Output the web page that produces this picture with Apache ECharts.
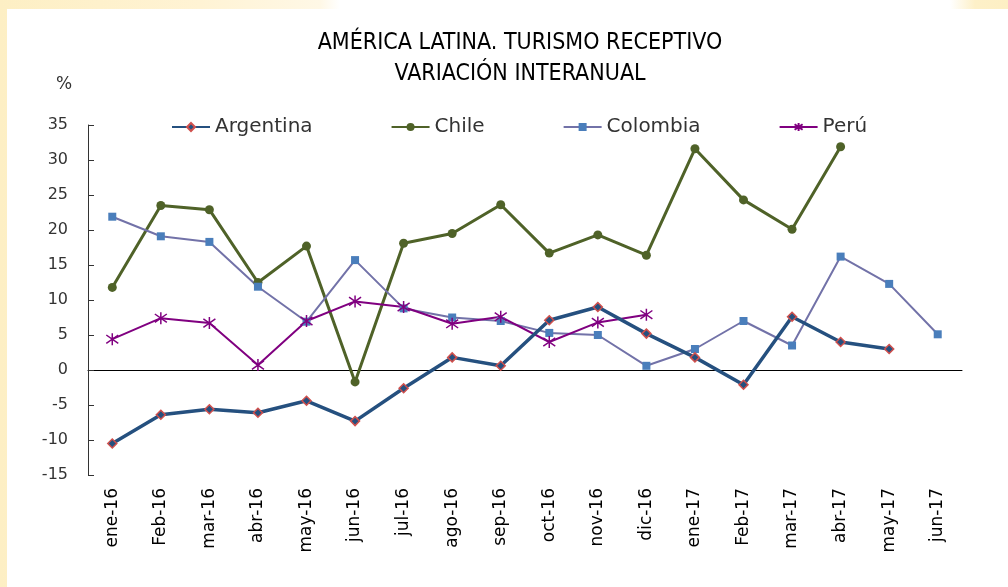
<!DOCTYPE html>
<html>
<head>
<meta charset="utf-8">
<script src="https://cdn.jsdelivr.net/npm/echarts@6/dist/echarts.min.js"></script>
<style>
  html, body { margin: 0; padding: 0; }
  body {
    width: 1008px; height: 587px; position: relative; overflow: hidden;
    background: linear-gradient(to right, #fdefc4 0px, #fff3d4 200px, #fff8e6 320px, #ffffff 340px, #ffffff 950px, #fdf0c8 975px, #fdefc4 1008px);
  }
  #panel { position: absolute; left: 7px; top: 9px; right: 0; bottom: 0; background: #ffffff; }
  #chart { position: absolute; left: 0; top: 0; width: 1008px; height: 587px; }
</style>
</head>
<body>
<div id="panel"></div>
<div id="chart"></div>
<script>
// categorías (meses)
var months = ["ene-16", "Feb-16", "mar-16", "abr-16", "may-16", "jun-16", "jul-16", "ago-16", "sep-16",
  "oct-16", "nov-16", "dic-16", "ene-17", "Feb-17", "mar-17", "abr-17", "may-17", "jun-17"];

// variación interanual, %
var argentina = [-10.5, -6.4, -5.6, -6.1, -4.4, -7.3, -2.6, 1.8, 0.6, 7.1, 9.0, 5.2, 1.8, -2.1, 7.6, 4.0, 3.0, null];
var chile = [11.8, 23.5, 22.9, 12.5, 17.7, -1.7, 18.1, 19.5, 23.6, 16.7, 19.3, 16.4, 31.6, 24.3, 20.1, 31.9, null, null];
var colombia = [21.9, 19.1, 18.3, 11.9, 6.9, 15.7, 8.8, 7.5, 7.0, 5.3, 5.0, 0.6, 3.0, 7.0, 3.5, 16.2, 12.3, 5.1];
var peru = [4.4, 7.4, 6.7, 0.7, 7.0, 9.8, 9.0, 6.6, 7.6, 4.0, 6.8, 7.9, null, null, null, null, null, null];

var labelFont = "DejaVu Sans";
var asterisk = "path://M5 0L5 10M1.5 1.5L8.5 8.5M8.5 1.5L1.5 8.5";

var myChart = echarts.init(document.getElementById("chart"));
myChart.setOption({
  animation: false,
  title: {
    text: "AMÉRICA LATINA. TURISMO RECEPTIVO\nVARIACIÓN INTERANUAL",
    left: 515,
    textAlign: "center",
    top: 23,
    textStyle: {
      fontFamily: "Liberation Sans Narrow, DejaVu Sans Condensed",
      fontSize: 23,
      fontWeight: "normal",
      color: "#000",
      lineHeight: 31
    }
  },
  graphic: [{
    type: "text",
    left: 56,
    top: 76,
    style: { text: "%", fontSize: 17, fontFamily: labelFont, fill: "#333" }
  }],
  legend: {
    left: 166,
    top: 112,
    itemWidth: 38,
    itemHeight: 10,
    itemGap: 78,
    textStyle: { fontFamily: labelFont, fontSize: 20, color: "#333" },
    data: ["Argentina", "Chile", "Colombia", "Perú"]
  },
  grid: { left: 88, right: 46, top: 125, bottom: 112 },
  xAxis: [{
    type: "category",
    data: months,
    axisLine: { onZero: true, lineStyle: { color: "#000", width: 1 } },
    axisTick: { inside: true, length: 6, lineStyle: { color: "#555" } },
    axisLabel: { show: false }
  }, {
    type: "category",
    data: months,
    position: "bottom",
    axisLine: { show: false, onZero: false },
    axisTick: { show: false },
    axisLabel: {
      rotate: 90,
      margin: 13,
      fontFamily: labelFont,
      fontSize: 17,
      color: "#000"
    }
  }],
  yAxis: {
    type: "value",
    min: -15,
    max: 35,
    interval: 5,
    axisLine: { show: true, lineStyle: { color: "#333" } },
    axisTick: { show: true, inside: true, length: 6, lineStyle: { color: "#333" } },
    axisLabel: { margin: 20, fontFamily: labelFont, fontSize: 16, color: "#333" },
    splitLine: { show: false }
  },
  series: [{
    name: "Argentina",
    type: "line",
    data: argentina,
    symbol: "diamond",
    symbolSize: 9,
    lineStyle: { color: "#25507f", width: 3.5 },
    itemStyle: { color: "#25507f", borderColor: "#d0504d", borderWidth: 1.5 },
    z: 5
  }, {
    name: "Chile",
    type: "line",
    data: chile,
    symbol: "circle",
    symbolSize: 9,
    lineStyle: { color: "#4f6228", width: 3 },
    itemStyle: { color: "#4f6228" }
  }, {
    name: "Colombia",
    type: "line",
    data: colombia,
    symbol: "rect",
    symbolSize: 8,
    lineStyle: { color: "#7272a8", width: 2 },
    itemStyle: { color: "#4a7ebb" }
  }, {
    name: "Perú",
    type: "line",
    data: peru,
    symbol: asterisk,
    symbolSize: 12,
    lineStyle: { color: "#800080", width: 2 },
    itemStyle: { color: "#800080", borderColor: "#800080", borderWidth: 1.5 }
  }]
});
</script>
</body>
</html>
